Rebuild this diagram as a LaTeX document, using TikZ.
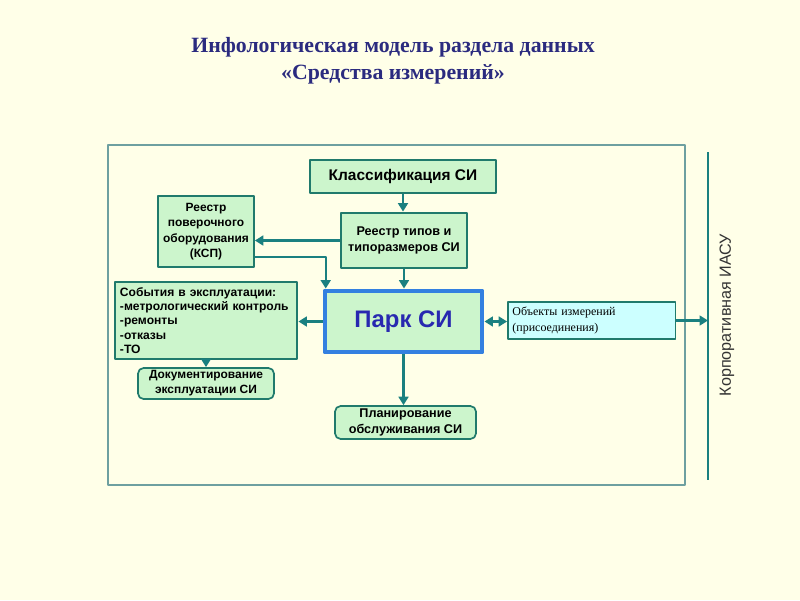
\documentclass[tikz,border=0pt]{standalone}
\usepackage{fontspec}
\setmainfont{Liberation Serif}
\setsansfont{Liberation Sans}
\usetikzlibrary{arrows.meta}
\usetikzlibrary{positioning}
\definecolor{paper}{RGB}{255,255,232}
\definecolor{mint}{RGB}{204,245,204}
\definecolor{aqua}{RGB}{204,255,255}
\definecolor{tealline}{RGB}{32,122,108}
\definecolor{arrowteal}{RGB}{26,128,128}
\definecolor{framegray}{RGB}{110,160,160}
\definecolor{parkblue}{RGB}{51,128,224}
\definecolor{parktext}{RGB}{40,40,176}
\definecolor{titleblue}{RGB}{43,43,127}
\tikzset{
  blok/.style={draw=tealline, fill=mint, line width=2pt, font=\sffamily\bfseries, align=center, inner sep=2pt},
  tonkblok/.style={blok, line width=1.2pt},
  kruglblok/.style={blok, line width=1.2pt, rounded corners=4pt},
  strelka/.style={->, draw=arrowteal, line width=1.6pt},
}
\begin{document}
\begin{tikzpicture}[line join=round,>={Triangle[length=6pt,width=7pt]},x=0.025cm,y=-0.025cm]
\useasboundingbox[fill=paper] (0,0) rectangle (800,600);
\node[font=\fontsize{15.5}{19.5}\selectfont\bfseries, text=titleblue, align=center] (zagolovok) at (393,61) {Инфологическая модель раздела данных\\«Средства измерений»};
\draw[framegray, line width=0.9pt] (108,145) rectangle (685,485);
\coordinate (iasuTop) at (708,152);
\coordinate (iasuBot) at (708,480);
\draw[arrowteal, line width=1.8pt] (iasuTop) -- (iasuBot);
\node[rotate=90, font=\sffamily\fontsize{11.5}{13}\selectfont, text=black!80] (iasu) at (727,315) {Корпоративная ИАСУ};
\node[blok, minimum width=4.65cm, minimum height=0.825cm, font=\sffamily\bfseries\fontsize{11}{13}\selectfont] (klass) at (403,176.5) {Классификация СИ};
\node[blok, minimum width=3.15cm, minimum height=1.375cm, font=\sffamily\bfseries\fontsize{9}{12}\selectfont] (reestrTip) at (404,240.5) {Реестр типов и\\типоразмеров СИ};
\node[tonkblok, minimum width=2.4cm, minimum height=1.775cm, font=\sffamily\bfseries\fontsize{8.5}{11}\selectfont] (reestrPov) at (206,231.5) {Реестр\\поверочного\\оборудования\\(КСП)};
\node[blok, minimum width=4.55cm, minimum height=1.925cm, align=left, text width=4.3cm, font=\sffamily\bfseries\fontsize{8.6}{10.1}\selectfont] (sobytiya) at (206,320.5) {События в эксплуатации:\\-метрологический контроль\\-ремонты\\-отказы\\-ТО};
\node[blok, draw=parkblue, line width=3.5pt, minimum width=3.925cm, minimum height=1.525cm, text=parktext, font=\sffamily\bfseries\fontsize{17}{20}\selectfont] (park) at (403.5,321.5) {Парк СИ};
\node[draw=tealline, fill=aqua, line width=1pt, minimum width=4.175cm, minimum height=0.925cm, align=left, text width=3.95cm, font=\fontsize{8.5}{11}\selectfont] (obekty) at (591.5,320.5) {Объекты измерений\\(присоединения)};
\node[kruglblok, minimum width=3.4cm, minimum height=0.775cm, font=\sffamily\bfseries\fontsize{8.5}{10.5}\selectfont] (dokum) at (206,383.5) {Документирование\\эксплуатации СИ};
\node[kruglblok, minimum width=3.525cm, minimum height=0.825cm, font=\sffamily\bfseries\fontsize{9}{11}\selectfont] (plan) at (405.5,422.5) {Планирование\\обслуживания СИ};
\coordinate (povVyhod) at ([yshift=-0.64cm]reestrPov.east);
\draw[strelka] (klass.south) -- (klass.south |- reestrTip.north);
\draw[strelka] (reestrTip.west) -- (reestrPov.east |- reestrTip.west);
\draw[strelka] (povVyhod) -| ([xshift=0.08cm]park.north west);
\draw[strelka] (reestrTip.south) -- (reestrTip.south |- park.north);
\draw[strelka] (park.west) -- (sobytiya.east |- park.west);
\draw[strelka] (sobytiya.south) -- (dokum.north);
\draw[strelka] (park.south) -- (park.south |- plan.north);
\draw[<->, draw=arrowteal, line width=1.6pt] (park.east) -- (obekty.west |- park.east);
\draw[strelka] (obekty.east) -- (obekty.east -| iasuTop);
\end{tikzpicture}
\end{document}
